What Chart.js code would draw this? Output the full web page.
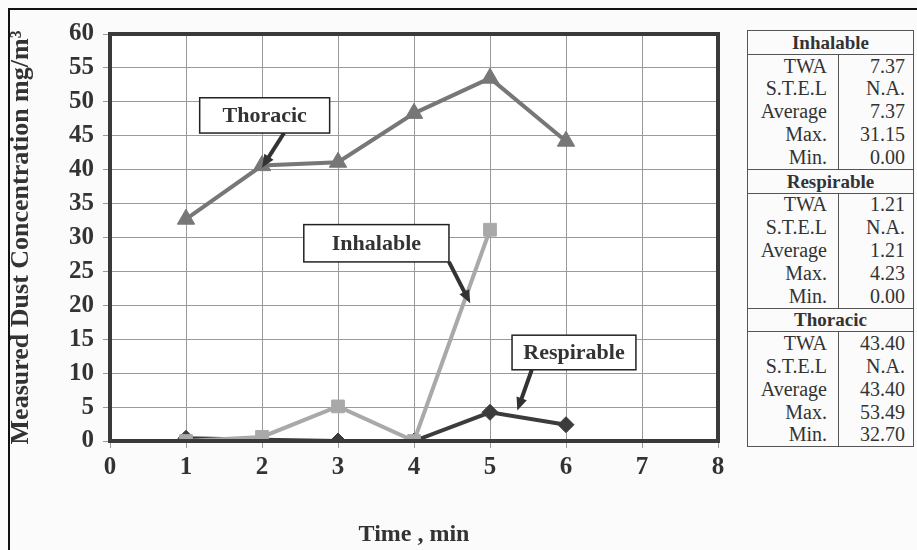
<!DOCTYPE html>
<html>
<head>
<meta charset="utf-8">
<script src="https://cdn.jsdelivr.net/npm/chart.js@4"></script>
<style>
  body { margin: 0; background: #fbfbfb; font-family: "Liberation Serif", serif; }
  #frame { position: absolute; left: 8px; top: 8px; width: 915px; height: 560px; border: 2px solid #111; box-sizing: border-box; }
  #wrap { position: absolute; left: 0; top: 0; width: 730px; height: 550px; }
  #stats { position: absolute; left: 747px; top: 30px; width: 167px; border-collapse: collapse; border: 1px solid #555; font-size: 20px; color: #333; table-layout: fixed; }
  #stats td { padding: 0 8px 0 2px; height: 22.8px; line-height: 21px; text-align: right; }
  #stats td.lab { border-right: 1px solid #555; width: 78px; padding-right: 11px; }
  #stats tr.head td { text-align: center; font-weight: bold; font-size: 19px; border-top: 1px solid #555; border-bottom: 1px solid #555; padding: 0; }
</style>
</head>
<body>
<div id="frame"></div>
<div id="wrap"><canvas id="chart" width="730" height="550"></canvas></div>
<table id="stats"><colgroup><col style="width:91px"><col></colgroup></table>
<script>
// data
const times = [1, 2, 3, 4, 5, 6];
const thoracic = [32.70, 40.6, 41.1, 48.3, 53.49, 44.2];
const inhalable = [0, 0.6, 5.1, 0, 31.15];
const respirable = [0.4, 0.2, 0, 0, 4.23, 2.4];
const xTicks = [0, 1, 2, 3, 4, 5, 6, 7, 8];
const yTicks = [0, 5, 10, 15, 20, 25, 30, 35, 40, 45, 50, 55, 60];

// summary table
const statNames = ["TWA", "S.T.E.L", "Average", "Max.", "Min."];
const statGroups = ["Inhalable", "Respirable", "Thoracic"];
const statValues = [
    ["7.37", "N.A.", "7.37", "31.15", "0.00"],
    ["1.21", "N.A.", "1.21", "4.23", "0.00"],
    ["43.40", "N.A.", "43.40", "53.49", "32.70"]
];

// callout boxes (data coords): label, box x1,x2,y1,y2, arrow from -> to
const callouts = [
    { text: "Thoracic", box: [1.18, 2.89, 50.6, 45.4], from: [2.29, 45.4], to: [2.0, 40.3] },
    { text: "Inhalable", box: [2.55, 4.46, 31.9, 26.4], from: [4.46, 26.4], to: [4.74, 20.3] },
    { text: "Respirable", box: [5.29, 6.92, 15.6, 10.5], from: [5.55, 10.5], to: [5.36, 4.5] }
];

let rows = "";
statGroups.forEach((g, i) => {
    rows += `<tr class="head"><td colspan="2">${g}</td></tr>`;
    statNames.forEach((n, j) => {
        rows += `<tr><td class="lab">${n}</td><td>${statValues[i][j]}</td></tr>`;
    });
});
document.getElementById("stats").insertAdjacentHTML("beforeend", "<tbody>" + rows + "</tbody>");

function pts(arr) {
    return arr.map((v, i) => ({ x: times[i], y: v }));
}

const serif = "'Liberation Serif', 'Times New Roman', serif";

// white plot background + thick frame + callouts
const extras = {
    id: "extras",
    beforeDraw(chart) {
        const a = chart.chartArea, ctx = chart.ctx;
        ctx.save();
        ctx.fillStyle = "#ffffff";
        ctx.fillRect(a.left, a.top, a.right - a.left, a.bottom - a.top);
        ctx.restore();
    },
    afterDatasetsDraw(chart) {
        const a = chart.chartArea, ctx = chart.ctx;
        const xs = chart.scales.x, ys = chart.scales.y;
        ctx.save();
        ctx.strokeStyle = "#3a3a3a";
        ctx.lineWidth = 4;
        ctx.strokeRect(a.left, a.top, a.right - a.left, a.bottom - a.top);

        callouts.forEach(c => {
            const x1 = xs.getPixelForValue(c.box[0]), x2 = xs.getPixelForValue(c.box[1]);
            const y1 = ys.getPixelForValue(c.box[2]), y2 = ys.getPixelForValue(c.box[3]);
            // arrow
            const fx = xs.getPixelForValue(c.from[0]), fy = ys.getPixelForValue(c.from[1]);
            const tx = xs.getPixelForValue(c.to[0]), ty = ys.getPixelForValue(c.to[1]);
            const ang = Math.atan2(ty - fy, tx - fx);
            const head = 14;
            ctx.strokeStyle = "#333";
            ctx.fillStyle = "#333";
            ctx.lineWidth = 4;
            ctx.beginPath();
            ctx.moveTo(fx, fy);
            ctx.lineTo(tx - Math.cos(ang) * head * 0.8, ty - Math.sin(ang) * head * 0.8);
            ctx.stroke();
            ctx.beginPath();
            ctx.moveTo(tx, ty);
            ctx.lineTo(tx - head * Math.cos(ang - 0.4), ty - head * Math.sin(ang - 0.4));
            ctx.lineTo(tx - head * Math.cos(ang + 0.4), ty - head * Math.sin(ang + 0.4));
            ctx.closePath();
            ctx.fill();
            // box
            ctx.fillStyle = "#ffffff";
            ctx.fillRect(x1, y1, x2 - x1, y2 - y1);
            ctx.strokeStyle = "#222";
            ctx.lineWidth = 1.5;
            ctx.strokeRect(x1, y1, x2 - x1, y2 - y1);
            ctx.fillStyle = "#333";
            ctx.font = "bold 22px " + serif;
            ctx.textAlign = "center";
            ctx.textBaseline = "middle";
            ctx.fillText(c.text, (x1 + x2) / 2, (y1 + y2) / 2 + 1);
        });
        ctx.restore();
    }
};

new Chart(document.getElementById("chart"), {
    type: "line",
    data: {
        datasets: [
            {
                label: "Thoracic",
                data: pts(thoracic),
                borderColor: "#777777",
                backgroundColor: "#777777",
                borderWidth: 4,
                pointStyle: "triangle",
                pointRadius: 10,
                pointBorderWidth: 1
            },
            {
                label: "Inhalable",
                data: pts(inhalable),
                borderColor: "#a9a9a9",
                backgroundColor: "#a9a9a9",
                borderWidth: 4,
                pointStyle: "rect",
                pointRadius: 9,
                pointBorderWidth: 1
            },
            {
                label: "Respirable",
                data: pts(respirable),
                borderColor: "#3c3c3c",
                backgroundColor: "#3c3c3c",
                borderWidth: 4,
                pointStyle: "rectRot",
                pointRadius: 8,
                pointBorderWidth: 1
            }
        ]
    },
    options: {
        responsive: false,
        animation: false,
        layout: { padding: { top: 34, right: 12, left: 0, bottom: 0 } },
        plugins: { legend: { display: false }, tooltip: { enabled: false } },
        scales: {
            x: {
                type: "linear",
                min: 0,
                max: 8,
                afterBuildTicks: s => { s.ticks = xTicks.map(v => ({ value: v })); },
                afterFit: s => { s.height = 109; },
                grid: { color: "#9a9a9a", lineWidth: 1, tickLength: 7, drawOnChartArea: true },
                border: { display: false },
                ticks: { color: "#333", padding: 5, autoSkip: false, maxRotation: 0, font: { family: serif, size: 25, weight: "bold" } },
                title: { display: true, text: "Time , min", color: "#333", padding: { top: 0, bottom: 1 }, font: { family: serif, size: 24, weight: "bold" } }
            },
            y: {
                min: 0,
                max: 60,
                afterBuildTicks: s => { s.ticks = yTicks.map(v => ({ value: v })); },
                afterFit: s => { s.width = 110; },
                grid: { color: "#9a9a9a", lineWidth: 1, tickLength: 7 },
                border: { display: false },
                ticks: { color: "#333", padding: 9, autoSkip: false, font: { family: serif, size: 25, weight: "bold" } },
                title: { display: true, text: "Measured Dust Concentration mg/m³", color: "#333", padding: { top: 6, bottom: 0 }, font: { family: serif, size: 26, weight: "bold" } }
            }
        }
    },
    plugins: [extras]
});
</script>
</body>
</html>
